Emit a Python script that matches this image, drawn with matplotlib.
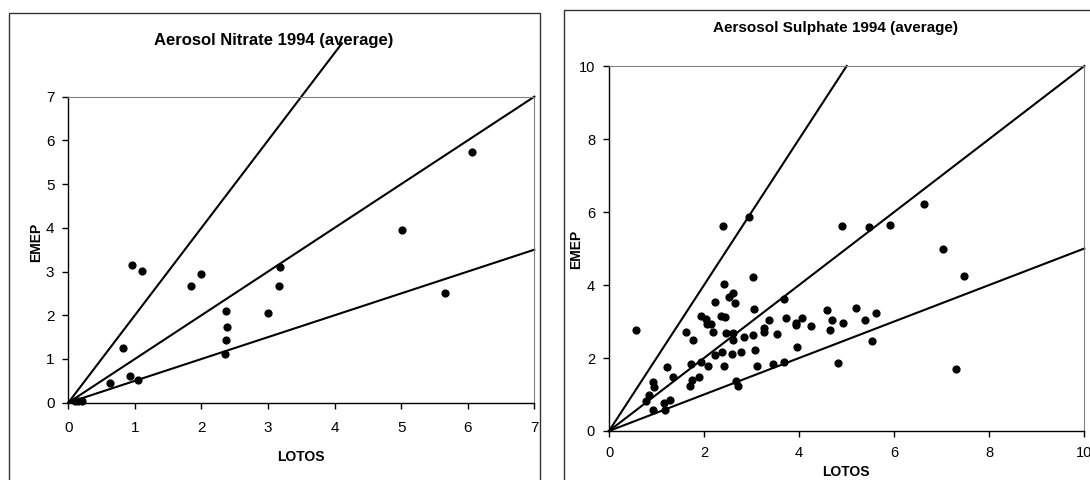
import numpy as np
import matplotlib
matplotlib.use('Agg')
import matplotlib.pyplot as plt
from matplotlib.patches import Rectangle

plt.rcParams['font.family'] = ['Liberation Sans', 'DejaVu Sans']

# --- data ---
nitrate_lotos = [6.06, 5.02, 5.66, 0.96, 1.11, 1.84, 1.99, 3.18, 3.16, 3.00,
                 2.37, 2.39, 2.37, 2.36, 0.82, 0.92, 1.04, 0.62, 0.10, 0.15, 0.21]
nitrate_emep = [5.73, 3.96, 2.51, 3.16, 3.01, 2.66, 2.95, 3.10, 2.66, 2.06,
                2.09, 1.74, 1.44, 1.11, 1.24, 0.60, 0.52, 0.44, 0.03, 0.05, 0.05]

sulphate_lotos = [0.56, 2.40, 2.94, 4.90, 5.48, 5.91, 6.62, 7.02, 7.46, 7.30,
                  3.03, 2.43, 2.52, 2.61, 2.65, 2.24, 3.68, 3.06, 1.93, 2.35,
                  2.45, 2.05, 2.07, 2.14, 2.19, 1.61, 2.47, 2.61, 2.61, 1.77,
                  2.84, 3.03, 3.27, 3.27, 3.37, 3.53, 3.72, 3.93, 3.93, 4.06,
                  4.25, 4.59, 4.70, 4.66, 4.92, 5.20, 5.39, 5.61, 5.53, 4.82,
                  3.95, 3.69, 3.44, 3.11, 3.08, 2.78, 2.59, 2.38, 2.24, 2.41,
                  2.08, 1.93, 1.72, 1.89, 1.75, 1.70, 2.68, 2.71, 1.22, 1.35,
                  0.92, 0.94, 0.84, 0.77, 0.92, 1.15, 1.18, 1.28]
sulphate_emep = [2.78, 5.61, 5.87, 5.61, 5.59, 5.64, 6.22, 4.99, 4.26, 1.70,
                 4.23, 4.04, 3.66, 3.79, 3.51, 3.54, 3.63, 3.35, 3.16, 3.16,
                 3.12, 3.06, 2.92, 2.94, 2.72, 2.72, 2.69, 2.69, 2.50, 2.50,
                 2.58, 2.62, 2.82, 2.72, 3.03, 2.65, 3.09, 2.96, 2.90, 3.09,
                 2.87, 3.32, 3.03, 2.78, 2.96, 3.37, 3.03, 3.22, 2.46, 1.87,
                 2.30, 1.90, 1.83, 1.77, 2.21, 2.17, 2.11, 2.17, 2.07, 1.77,
                 1.77, 1.90, 1.83, 1.49, 1.39, 1.23, 1.37, 1.23, 1.74, 1.49,
                 1.35, 1.20, 1.00, 0.81, 0.57, 0.76, 0.57, 0.86]

slopes = [2.0, 1.0, 0.5]   # 1:2, 1:1, 2:1 lines

fig = plt.figure(figsize=(10.9, 4.8), dpi=100)

# chart frames (Excel-style chart area borders)
fig.patches.append(Rectangle((9/1090, -0.1), 531/1090, 1.1 - 12.7/480,
                             transform=fig.transFigure, fill=False,
                             edgecolor='#333333', lw=1.0))
fig.patches.append(Rectangle((564/1090, -0.1), 0.6, 1.1 - 10/480,
                             transform=fig.transFigure, fill=False,
                             edgecolor='#333333', lw=1.0))


def style_axes(ax, lim, step, fs, xpad):
    ax.set_xlim(0, lim)
    ax.set_ylim(0, lim)
    ax.set_xticks(np.arange(0, lim + 0.01, step))
    ax.set_yticks(np.arange(0, lim + 0.01, step))
    ax.tick_params(direction='out', length=4, width=1, labelsize=fs, pad=6,
                   colors='black')
    ax.tick_params(axis='x', pad=xpad)
    for s in ['top', 'right']:
        ax.spines[s].set_color('#808080')
        ax.spines[s].set_linewidth(0.8)
    for s in ['left', 'bottom']:
        ax.spines[s].set_color('black')
        ax.spines[s].set_linewidth(1.0)


# left: nitrate
ax1 = fig.add_axes([68.3/1090, 1 - 402.7/480, 466/1090, 306/480])
style_axes(ax1, 7, 1, 11, 9)
top_x = 4.11  # steep line runs on past the plot area up to the title
for k in slopes:
    xe = 7 if k * 7 <= 7 else top_x
    ax1.plot([0, xe], [0, k * xe], color='black', lw=1.5, clip_on=False,
             zorder=2)
ax1.scatter(nitrate_lotos, nitrate_emep, s=24, color='black', zorder=3,
            clip_on=False)
fig.text(274/1090, 1 - 40/480, 'Aerosol Nitrate 1994 (average)',
         ha='center', va='center', fontsize=12, fontweight='bold')
fig.text(301/1090, 1 - 456.7/480, 'LOTOS', ha='center', va='center',
         fontsize=10, fontweight='bold')
fig.text(36/1090, 1 - 242/480, 'EMEP', ha='center', va='center',
         fontsize=10, fontweight='bold', rotation=90)

# right: sulphate
ax2 = fig.add_axes([609/1090, 1 - 431/480, 475.3/1090, 365/480])
style_axes(ax2, 10, 2, 10.5, 7)
for k in slopes:
    xe = min(10, 10 / k)
    ax2.plot([0, xe], [0, k * xe], color='black', lw=1.5, clip_on=False,
             zorder=2)
ax2.scatter(sulphate_lotos, sulphate_emep, s=24, color='black', zorder=3)
fig.text(835.5/1090, 1 - 28.3/480, 'Aersosol Sulphate 1994 (average)',
         ha='center', va='center', fontsize=11, fontweight='bold')
fig.text(846/1090, 1 - 471.7/480, 'LOTOS', ha='center', va='center',
         fontsize=10, fontweight='bold')
fig.text(576/1090, 1 - 249/480, 'EMEP', ha='center', va='center',
         fontsize=10, fontweight='bold', rotation=90)

plt.savefig('out.png', dpi=100)
